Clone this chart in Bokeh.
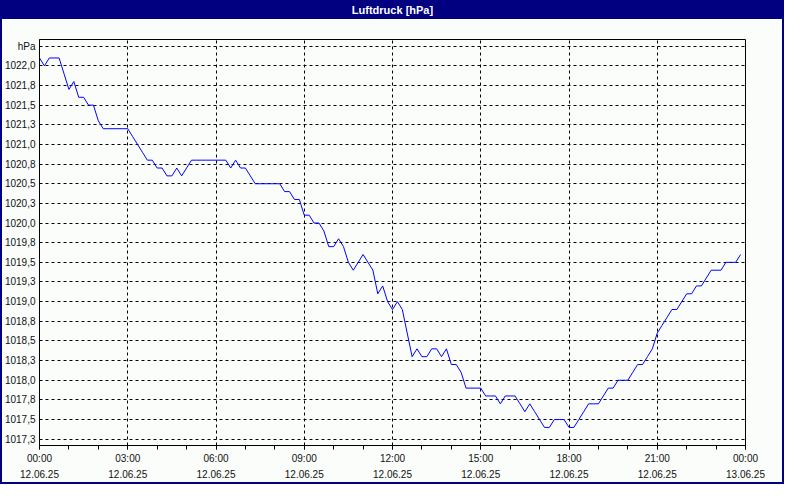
import numpy as np
from bokeh.plotting import figure
from bokeh.models import Range1d, FixedTicker, InlineStyleSheet, LinearAxis
from bokeh.embed import file_html
from bokeh.resources import INLINE

# ---- data (10-minute samples, 12.06.25 00:00 .. 23:50) ----
pressure = [
    1022.1, 1022.0, 1022.1, 1022.1, 1022.1, 1021.9, 1021.7, 1021.8, 1021.6, 1021.6,
    1021.5, 1021.5, 1021.3, 1021.2, 1021.2, 1021.2, 1021.2, 1021.2, 1021.2, 1021.1,
    1021.0, 1020.9, 1020.8, 1020.8, 1020.7, 1020.7, 1020.6, 1020.6, 1020.7, 1020.6,
    1020.7, 1020.8, 1020.8, 1020.8, 1020.8, 1020.8, 1020.8, 1020.8, 1020.8, 1020.7,
    1020.8, 1020.7, 1020.7, 1020.6, 1020.5, 1020.5, 1020.5, 1020.5, 1020.5, 1020.5,
    1020.4, 1020.4, 1020.3, 1020.3, 1020.1, 1020.1, 1020.0, 1020.0, 1019.9, 1019.7,
    1019.7, 1019.8, 1019.7, 1019.5, 1019.4, 1019.5, 1019.6, 1019.5, 1019.4, 1019.1,
    1019.2, 1019.0, 1018.9, 1019.0, 1018.9, 1018.6, 1018.3, 1018.4, 1018.3, 1018.3,
    1018.4, 1018.4, 1018.3, 1018.4, 1018.2, 1018.2, 1018.1, 1017.9, 1017.9, 1017.9,
    1017.9, 1017.8, 1017.8, 1017.8, 1017.7, 1017.8, 1017.8, 1017.8, 1017.7, 1017.6,
    1017.7, 1017.6, 1017.5, 1017.4, 1017.4, 1017.5, 1017.5, 1017.5, 1017.4, 1017.4,
    1017.5, 1017.6, 1017.7, 1017.7, 1017.7, 1017.8, 1017.9, 1017.9, 1018.0, 1018.0,
    1018.0, 1018.1, 1018.2, 1018.2, 1018.3, 1018.4, 1018.6, 1018.7, 1018.8, 1018.9,
    1018.9, 1019.0, 1019.1, 1019.1, 1019.2, 1019.2, 1019.3, 1019.4, 1019.4, 1019.4,
    1019.5, 1019.5, 1019.5, 1019.6,
]
sample_minutes = 10

y_ticks = [1017.25, 1017.5, 1017.75, 1018.0, 1018.25, 1018.5, 1018.75, 1019.0,
           1019.25, 1019.5, 1019.75, 1020.0, 1020.25, 1020.5, 1020.75, 1021.0,
           1021.25, 1021.5, 1021.75, 1022.0, 1022.25]
y_tick_labels = ["1017,3", "1017,5", "1017,8", "1018,0", "1018,3", "1018,5", "1018,8",
                 "1019,0", "1019,3", "1019,5", "1019,8", "1020,0", "1020,3", "1020,5",
                 "1020,8", "1021,0", "1021,3", "1021,5", "1021,8", "1022,0", "hPa"]

x_ticks = [0, 3, 6, 9, 12, 15, 18, 21, 24]
x_tick_labels = ["00:00\n12.06.25", "03:00\n12.06.25", "06:00\n12.06.25",
                 "09:00\n12.06.25", "12:00\n12.06.25", "15:00\n12.06.25",
                 "18:00\n12.06.25", "21:00\n12.06.25", "00:00\n13.06.25"]
x_minor_ticks = list(range(0, 25))

title_text = "Luftdruck [hPa]"

hours = np.arange(len(pressure)) * sample_minutes / 60.0

W, H = 784, 484
BG = "#FAFDFA"
NAVY = "#000080"
FONT = "Liberation Sans"
BAR = 19

p = figure(width=W, height=H, output_backend="svg", toolbar_location=None,
           x_range=Range1d(0, 24), y_range=Range1d(1017.17, 1022.335),
           min_border_left=39, min_border_right=39, min_border_top=39,
           min_border_bottom=39, background_fill_color=BG, border_fill_color=None)

# window look: navy title bar + navy frame (drawn by CSS on the plot host)
p.stylesheets = [InlineStyleSheet(css=(
    ":host { background: linear-gradient(to bottom, %s 0px, %s %dpx, %s %dpx, %s 100%%);"
    " box-shadow: inset 0 0 0 2px %s; }" % (NAVY, NAVY, BAR, BG, BAR, BG, NAVY)))]

# chart title, placed in the title bar via an above axis label
title_axis = LinearAxis(ticker=FixedTicker(ticks=[]), axis_label=title_text)
title_axis.axis_line_color = None
title_axis.major_tick_line_color = None
title_axis.minor_tick_line_color = None
title_axis.major_tick_out = 0
title_axis.major_tick_in = 0
title_axis.minor_tick_out = 0
title_axis.minor_tick_in = 0
title_axis.major_label_text_alpha = 0
title_axis.axis_label_standoff = 24
title_axis.axis_label_text_color = "white"
title_axis.axis_label_text_font = FONT
title_axis.axis_label_text_font_size = "11px"
title_axis.axis_label_text_font_style = "bold"
p.add_layout(title_axis, "above")

p.outline_line_color = "black"
p.outline_line_width = 1

p.line(hours, pressure, line_color="#0000FF", line_width=1)

# grids
p.xgrid.ticker = FixedTicker(ticks=x_ticks)
p.ygrid.ticker = FixedTicker(ticks=y_ticks)
for g in (p.xgrid, p.ygrid):
    g.grid_line_color = "black"
    g.grid_line_dash = "3 3"
    g.grid_line_width = 1

# x axis
xa = p.below[0]
xa.ticker = FixedTicker(ticks=x_ticks, minor_ticks=x_minor_ticks)
xa.major_label_overrides = dict(zip(x_ticks, x_tick_labels))
xa.axis_line_color = "black"
xa.major_tick_line_color = "black"
xa.minor_tick_line_color = "black"
xa.major_tick_in = 0
xa.major_tick_out = 4
xa.minor_tick_in = 0
xa.minor_tick_out = 4
xa.major_label_standoff = 3
xa.major_label_text_font = FONT
xa.major_label_text_font_size = "10px"
xa.major_label_text_color = "#111111"
xa.major_label_text_line_height = 1.5

# y axis
ya = p.left[0]
ya.ticker = FixedTicker(ticks=y_ticks)
ya.major_label_overrides = dict(zip(y_ticks, y_tick_labels))
ya.axis_line_color = "black"
ya.major_tick_line_color = None
ya.minor_tick_line_color = None
ya.major_tick_in = 0
ya.major_tick_out = 0
ya.minor_tick_in = 0
ya.minor_tick_out = 0
ya.major_label_standoff = 4
ya.major_label_text_font = FONT
ya.major_label_text_font_size = "10px"
ya.major_label_text_color = "#111111"

open("out.html", "w").write(file_html(p, INLINE))
